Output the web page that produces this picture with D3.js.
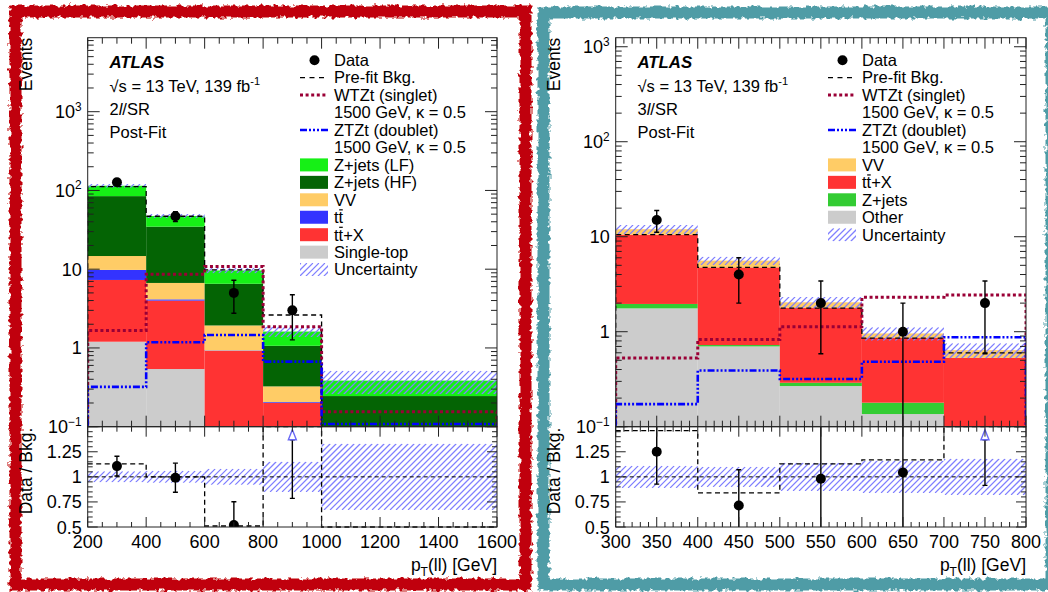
<!DOCTYPE html>
<html><head><meta charset="utf-8">
<script src="https://cdn.jsdelivr.net/npm/d3@7"></script>
<style>
html,body{margin:0;padding:0;background:#fff;}
svg{display:block;font-family:"Liberation Sans",Arial,Helvetica,sans-serif;}
</style></head><body>
<svg id="c" width="1048" height="592"></svg>
<script>
// ---------------- 2l/SR ----------------
const edges2l      = [200, 400, 600, 800, 1000, 1600];
const singleTop2l  = [1.2, 0.54, 0.10, 0.01, 0.005];
const ttX2l        = [6.1, 3.45, 0.82, 0.19, 0.02];
const ttbar2l      = [2.5, 0.15, 0.01, 0.005, 0];
const vv2l         = [4.9, 2.55, 1.0, 0.12, 0.02];
const zjHF2l       = [70, 28, 4.6, 0.74, 0.2];
const zjLF2l       = [30, 12.7, 3.1, 0.55, 0.14];
const data2l       = [127, 47, 5, 3, 0];
const prefit2l     = [112, 47, 9.8, 2.62, 0.05];
const prefitRatio2l = [1.13, 1.0, 0.51, 1.6, 0];   // ratio-panel dashed line (off-scale values sit on the frame)
const relUnc2l     = [0.055, 0.06, 0.08, 0.15, 0.33];
const wtzt2l       = [1.66, 8.6, 10.8, 1.86, 0.155];
const ztzt2l       = [0.32, 1.18, 1.46, 0.67, 0.108];
const xTickLabels2l = ["200", "400", "600", "800", "1000", "1200", "1400", "1600"];

// ---------------- 3l/SR ----------------
const edges3l      = [300, 400, 500, 600, 700, 800];
const other3l      = [1.76, 0.70, 0.268, 0.136, 0.04];
const zjets3l      = [0.2, 0.024, 0.022, 0.043, 0.005];
const ttX3l        = [8.54, 4.03, 1.5, 0.68, 0.485];
const vv3l         = [1.5, 0.85, 0.25, 0.1, 0.11];
const data3l       = [15, 4, 2, 1, 2];
const prefit3l     = [10.5, 4.76, 1.77, 0.855, 0.6];
const prefitRatio3l = [1.46, 0.84, 1.13, 1.17, 3.3];
const relUnc3l     = [0.11, 0.10, 0.14, 0.16, 0.18];
const wtzt3l       = [0.53, 0.83, 1.13, 2.3, 2.43];
const ztzt3l       = [0.173, 0.39, 0.318, 0.483, 0.873];
const xTickLabels3l = ["300", "350", "400", "450", "500", "550", "600", "650", "700", "750", "800"];

// shared axis labels
const yTickValues   = [0.1, 1, 10, 100, 1000];
const yTickLabels   = [["10", "\u22121"], ["1", ""], ["10", ""], ["10", "2"], ["10", "3"]];
const rTickValues   = [0.5, 0.75, 1, 1.25];
const rTickLabels   = ["0.5", "0.75", "1", "1.25"];
const sigLabels     = ["WTZt (singlet)", "1500 GeV, \u03ba = 0.5", "ZTZt (doublet)", "1500 GeV, \u03ba = 0.5"];

const COL = {
  zjLF: "#16f016", zjHF: "#046404", vv: "#ffcc66", ttbar: "#3333ff",
  ttX: "#ff3333", single: "#cccccc", zjets: "#33cc33", other: "#cccccc",
  wtzt: "#9a0036", ztzt: "#0000ff", hatch: "#8080ff"
};

const Y_TOP = 37.7, Y_SPLIT = 426.7, Y_BOT = 527;

const svg = d3.select("#c");
const defs = svg.append("defs");
let clipCount = 0;

// diagonal "////" hatching inside a rectangle, on a shared 6 px grid
function hatchRect(parent, x, y, w, h) {
  if (!(h > 0) || !(w > 0)) return;
  const cid = "hc" + (clipCount++);
  defs.append("clipPath").attr("id", cid).append("rect")
    .attr("x", x).attr("y", y).attr("width", w).attr("height", h);
  const gh = parent.append("g").attr("clip-path", `url(#${cid})`);
  const step = 6;
  const c0 = Math.floor((x + y) / step) * step, c1 = x + w + y + h + step;
  let d = "";
  for (let c = c0; c <= c1; c += step) d += `M${c - (y + h)},${y + h}L${c - y},${y}`;
  gh.append("path").attr("d", d).attr("fill", "none")
    .attr("stroke", COL.hatch).attr("stroke-width", 1.25);
}

// rough brush-like frame
const flt = defs.append("filter").attr("id", "rough")
  .attr("x", "-3%").attr("y", "-3%").attr("width", "106%").attr("height", "106%");
flt.append("feTurbulence").attr("type", "fractalNoise").attr("baseFrequency", 0.22)
  .attr("numOctaves", 2).attr("seed", 4).attr("result", "noise");
flt.append("feDisplacementMap").attr("in", "SourceGraphic").attr("in2", "noise")
  .attr("scale", 7).attr("xChannelSelector", "R").attr("yChannelSelector", "G");

svg.append("rect").attr("x", 15.5).attr("y", 11.5).attr("width", 510).attr("height", 573)
  .attr("fill", "none").attr("stroke", "#c00008").attr("stroke-width", 12).attr("filter", "url(#rough)");
svg.append("rect").attr("x", 543.5).attr("y", 12.5).attr("width", 508).attr("height", 572)
  .attr("fill", "none").attr("stroke", "#509ca6").attr("stroke-width", 12).attr("filter", "url(#rough)");

function supText(g, x, y, base, exp, size, anchor) {
  const t = g.append("text").attr("x", x).attr("y", y).attr("font-size", size)
    .attr("text-anchor", anchor || "end").attr("fill", "#000");
  t.append("tspan").text(base);
  if (exp) t.append("tspan").attr("dy", -size * 0.42).attr("font-size", size * 0.66).text(exp);
  return t;
}

function drawPanel(o) {
  const g = svg.append("g");
  const id = o.id;
  const x = d3.scaleLinear().domain([o.edges[0], o.edges[o.edges.length - 1]]).range([o.x0, o.x1]);
  const y = d3.scaleLog().domain([0.1, o.yMax]).range([Y_SPLIT, Y_TOP]);
  const yr = d3.scaleLinear().domain([0.5, 1.5]).range([Y_BOT, Y_SPLIT]);
  const nb = o.edges.length - 1;
  const bins = d3.range(nb);
  const cx = i => x((o.edges[i] + o.edges[i + 1]) / 2);

  defs.append("clipPath").attr("id", "cm" + id).append("rect")
    .attr("x", o.x0).attr("y", Y_TOP).attr("width", o.x1 - o.x0).attr("height", Y_SPLIT - Y_TOP);
  defs.append("clipPath").attr("id", "cr" + id).append("rect")
    .attr("x", o.x0).attr("y", Y_SPLIT).attr("width", o.x1 - o.x0).attr("height", Y_BOT - Y_SPLIT);

  const gm = g.append("g").attr("clip-path", `url(#cm${id})`);
  const gr = g.append("g").attr("clip-path", `url(#cr${id})`);
  const yy = v => v > 0 ? Math.min(y(v), Y_SPLIT + 20) : Y_SPLIT + 20;

  // stacked backgrounds
  const rows = bins.map(i => { const r = {}; o.stack.forEach(s => r[s.key] = s.values[i]); return r; });
  const layers = d3.stack().keys(o.stack.map(s => s.key))(rows);
  layers.forEach((layer, li) => {
    gm.selectAll(null).data(layer).join("rect")
      .attr("x", (d, i) => x(o.edges[i]))
      .attr("width", (d, i) => x(o.edges[i + 1]) - x(o.edges[i]))
      .attr("y", d => yy(d[1]))
      .attr("height", d => Math.max(0, yy(d[0]) - yy(d[1])))
      .attr("fill", o.stack[li].color);
  });
  const totals = bins.map(i => d3.sum(o.stack, s => s.values[i]));

  // uncertainty band on the total
  bins.forEach(i => {
    const yt = yy(totals[i] * (1 + o.unc[i])), yb = yy(totals[i] * (1 - o.unc[i]));
    hatchRect(gm, x(o.edges[i]), yt, x(o.edges[i + 1]) - x(o.edges[i]), yb - yt);
  });

  function stepPath(vals, f, floor) {
    let d = `M${x(o.edges[0])},${floor}`;
    vals.forEach((v, i) => { d += `L${x(o.edges[i])},${f(v)}L${x(o.edges[i + 1])},${f(v)}`; });
    return d + `L${x(o.edges[nb])},${floor}`;
  }
  // pre-fit background and signals
  gm.append("path").attr("d", stepPath(o.prefit, yy, Y_SPLIT + 20))
    .attr("fill", "none").attr("stroke", "#000").attr("stroke-width", 1.3).attr("stroke-dasharray", "5,3.5");
  gm.append("path").attr("d", stepPath(o.wtzt, yy, Y_SPLIT + 20))
    .attr("fill", "none").attr("stroke", COL.wtzt).attr("stroke-width", 3).attr("stroke-dasharray", "3,2.6");
  gm.append("path").attr("d", stepPath(o.ztzt, yy, Y_SPLIT + 20))
    .attr("fill", "none").attr("stroke", COL.ztzt).attr("stroke-width", 2.6).attr("stroke-dasharray", "7,2,2,2,2,2,2,2");

  // data with Poisson (sqrt N) errors
  function errBar(gg, xc, yHi, yLo, top, bot) {
    gg.append("line").attr("x1", xc).attr("x2", xc).attr("y1", yHi).attr("y2", yLo)
      .attr("stroke", "#000").attr("stroke-width", 1.4);
    [yHi, yLo].forEach(v => {
      if (v > top + 1 && v < bot - 1)
        gg.append("line").attr("x1", xc - 2.5).attr("x2", xc + 2.5).attr("y1", v).attr("y2", v)
          .attr("stroke", "#000").attr("stroke-width", 1.4);
    });
  }
  bins.forEach(i => {
    const n = o.data[i];
    if (n <= 0) return;
    const e = Math.sqrt(n);
    errBar(gm, cx(i), y(n + e), yy(n - e), Y_TOP, Y_SPLIT);
    gm.append("circle").attr("cx", cx(i)).attr("cy", y(n)).attr("r", 5).attr("fill", "#000");
  });

  // ratio panel
  bins.forEach(i => {
    const yt = yr(1 + o.unc[i]), yb = yr(1 - o.unc[i]);
    hatchRect(gr, x(o.edges[i]), yt, x(o.edges[i + 1]) - x(o.edges[i]), yb - yt);
  });
  const preRatio = o.preRatio.map(v => Math.max(0.5, Math.min(1.5, v)));
  let dR = "";
  preRatio.forEach((v, i) => { dR += `${i ? "L" : "M"}${x(o.edges[i])},${yr(v)}L${x(o.edges[i + 1])},${yr(v)}`; });
  g.append("path").attr("d", dR).attr("fill", "none").attr("stroke", "#000")
    .attr("stroke-width", 1.3).attr("stroke-dasharray", "5,3.5");
  g.append("line").attr("x1", o.x0).attr("x2", o.x1).attr("y1", yr(1)).attr("y2", yr(1))
    .attr("stroke", "#000").attr("stroke-width", 1).attr("stroke-dasharray", "4,3");
  bins.forEach(i => {
    const n = o.data[i];
    if (n <= 0) return;
    const r = n / totals[i], e = Math.sqrt(n) / totals[i];
    if (r > 1.5) {
      const ya = Y_SPLIT + 3, yb = Y_SPLIT + 13;
      g.append("path").attr("d", `M${cx(i)},${ya}L${cx(i) - 4},${yb}L${cx(i) + 4},${yb}Z`)
        .attr("fill", "#fff").attr("stroke", "#6a6af5").attr("stroke-width", 1.4);
      errBar(gr, cx(i), yb, yr(r - e), Y_SPLIT, Y_BOT);
    } else {
      errBar(gr, cx(i), yr(r + e), yr(r - e), Y_SPLIT, Y_BOT);
      gr.append("circle").attr("cx", cx(i)).attr("cy", yr(r)).attr("r", 5).attr("fill", "#000");
    }
  });

  // frames
  [[Y_TOP, Y_SPLIT], [Y_SPLIT, Y_BOT]].forEach(([a, b]) =>
    g.append("rect").attr("x", o.x0).attr("y", a).attr("width", o.x1 - o.x0).attr("height", b - a)
      .attr("fill", "none").attr("stroke", "#222").attr("stroke-width", 1));

  // ticks
  const tk = g.append("g").attr("stroke", "#222").attr("stroke-width", 1);
  const xt = d3.range(o.edges[0], o.edges[nb] + 0.01, o.xMinor);
  xt.forEach(v => {
    const maj = Math.abs(v / o.xMajor - Math.round(v / o.xMajor)) < 1e-6;
    const px = x(v);
    [[Y_TOP, 1, maj ? 11 : 6], [Y_SPLIT, -1, maj ? 11 : 6], [Y_SPLIT, 1, maj ? 10 : 5], [Y_BOT, -1, maj ? 10 : 5]]
      .forEach(([y0, dir, len]) => tk.append("line").attr("x1", px).attr("x2", px).attr("y1", y0).attr("y2", y0 + dir * len));
  });
  d3.range(-1, 4).forEach(e => d3.range(1, 10).forEach(k => {
    const v = k * Math.pow(10, e);
    if (v > o.yMax) return;
    const py = y(v), len = k === 1 ? 12 : 6;
    tk.append("line").attr("x1", o.x0).attr("x2", o.x0 + len).attr("y1", py).attr("y2", py);
    tk.append("line").attr("x1", o.x1).attr("x2", o.x1 - len).attr("y1", py).attr("y2", py);
  }));
  d3.range(0, 21).forEach(k => {
    const v = 0.5 + k * 0.05, py = yr(v), len = k % 5 === 0 ? 10 : 5;
    tk.append("line").attr("x1", o.x0).attr("x2", o.x0 + len).attr("y1", py).attr("y2", py);
    tk.append("line").attr("x1", o.x1).attr("x2", o.x1 - len).attr("y1", py).attr("y2", py);
  });

  // tick labels
  o.xLabels.forEach(s => g.append("text").attr("x", x(+s)).attr("y", 548).attr("font-size", 18)
    .attr("text-anchor", "middle").text(s));
  yTickValues.forEach((v, i) => supText(g, o.x0 - 6, y(v) + 6.5, yTickLabels[i][0], yTickLabels[i][1], 18));
  rTickValues.forEach((v, i) => g.append("text").attr("x", o.x0 - 6).attr("y", yr(v) + 6.5)
    .attr("font-size", 18).attr("text-anchor", "end").text(rTickLabels[i]));

  // axis titles
  g.append("text").attr("transform", `translate(${o.x0 - 55.5},${Y_TOP}) rotate(-90)`)
    .attr("font-size", 17.5).attr("text-anchor", "end").text("Events");
  g.append("text").attr("transform", `translate(${o.x0 - 55.5},${Y_SPLIT + 1}) rotate(-90)`)
    .attr("font-size", 17.5).attr("text-anchor", "end").text("Data / Bkg.");
  const xt2 = g.append("text").attr("x", o.x1).attr("y", 571).attr("font-size", 17.5).attr("text-anchor", "end");
  xt2.append("tspan").text("p");
  xt2.append("tspan").attr("font-size", 12).attr("dy", 5).text("T");
  xt2.append("tspan").attr("dy", -5).text("(ll) [GeV]");

  // labels block
  const lx = o.x0 + 21.8;
  g.append("text").attr("x", lx).attr("y", 68.3).attr("font-size", 16.8).attr("font-weight", "bold")
    .attr("font-style", "italic").text("ATLAS");
  const t2 = g.append("text").attr("x", lx).attr("y", 91.7).attr("font-size", 16.5);
  t2.append("tspan").text("\u221as = 13 TeV, 139 fb");
  t2.append("tspan").attr("dy", -6.5).attr("font-size", 11).text("-1");
  const t3 = g.append("text").attr("x", lx).attr("y", 114.5).attr("font-size", 16.5);
  t3.append("tspan").text(o.region);
  t3.append("tspan").attr("font-style", "italic").text("l");
  t3.append("tspan").text("/SR");
  g.append("text").attr("x", lx).attr("y", 137.5).attr("font-size", 16.5).text("Post-Fit");

  // legend
  const sx = o.legX, tx = sx + 34;
  o.legend.forEach((en, k) => {
    const base = 66 + 17.45 * k, mid = base - 5.8;
    if (en.kind === "data") g.append("circle").attr("cx", sx + 14.5).attr("cy", mid).attr("r", 5).attr("fill", "#000");
    if (en.kind === "dashed") g.append("line").attr("x1", sx).attr("x2", sx + 28).attr("y1", mid).attr("y2", mid)
      .attr("stroke", "#000").attr("stroke-width", 1.3).attr("stroke-dasharray", "5,4.5");
    if (en.kind === "dotted") g.append("line").attr("x1", sx).attr("x2", sx + 28).attr("y1", mid).attr("y2", mid)
      .attr("stroke", COL.wtzt).attr("stroke-width", 3).attr("stroke-dasharray", "3,2.6");
    if (en.kind === "dashdot") g.append("line").attr("x1", sx).attr("x2", sx + 28).attr("y1", mid).attr("y2", mid)
      .attr("stroke", COL.ztzt).attr("stroke-width", 2.6).attr("stroke-dasharray", "7,2,2,2,2,2,2,2");
    if (en.kind === "box") g.append("rect").attr("x", sx).attr("y", mid - 6.5).attr("width", 28).attr("height", 13).attr("fill", en.color);
    if (en.kind === "hatch") hatchRect(g, sx, mid - 6.5, 28, 13);
    const t = g.append("text").attr("x", tx).attr("y", base).attr("font-size", 16.5)
      .text(en.bar ? "tt" + en.label : en.label);
    if (en.bar) {
      // anti-top bar over the second "t"
      const ex = t.node().getExtentOfChar(1);
      g.append("line").attr("x1", ex.x + 0.6).attr("x2", ex.x + ex.width - 0.4)
        .attr("y1", base - 13.2).attr("y2", base - 13.2).attr("stroke", "#000").attr("stroke-width", 1.2);
    }
  });
}

drawPanel({
  id: "L", x0: 87.7, x1: 497, yMax: 8700, edges: edges2l, xMinor: 50, xMajor: 200,
  xLabels: xTickLabels2l, region: "2",
  stack: [
    { key: "Single-top", values: singleTop2l, color: COL.single },
    { key: "ttX", values: ttX2l, color: COL.ttX },
    { key: "tt", values: ttbar2l, color: COL.ttbar },
    { key: "VV", values: vv2l, color: COL.vv },
    { key: "Z+jets (HF)", values: zjHF2l, color: COL.zjHF },
    { key: "Z+jets (LF)", values: zjLF2l, color: COL.zjLF }
  ],
  data: data2l, prefit: prefit2l, preRatio: prefitRatio2l, unc: relUnc2l, wtzt: wtzt2l, ztzt: ztzt2l,
  legX: 300,
  legend: [
    { kind: "data", label: "Data" }, { kind: "dashed", label: "Pre-fit Bkg." },
    { kind: "dotted", label: sigLabels[0] }, { kind: "none", label: sigLabels[1] },
    { kind: "dashdot", label: sigLabels[2] }, { kind: "none", label: sigLabels[3] },
    { kind: "box", label: "Z+jets (LF)", color: COL.zjLF }, { kind: "box", label: "Z+jets (HF)", color: COL.zjHF },
    { kind: "box", label: "VV", color: COL.vv }, { kind: "box", label: "", bar: true, color: COL.ttbar },
    { kind: "box", label: "+X", bar: true, color: COL.ttX }, { kind: "box", label: "Single-top", color: COL.single },
    { kind: "hatch", label: "Uncertainty" }
  ]
});

drawPanel({
  id: "R", x0: 615.7, x1: 1026, yMax: 1245, edges: edges3l, xMinor: 10, xMajor: 50,
  xLabels: xTickLabels3l, region: "3",
  stack: [
    { key: "Other", values: other3l, color: COL.other },
    { key: "Z+jets", values: zjets3l, color: COL.zjets },
    { key: "ttX", values: ttX3l, color: COL.ttX },
    { key: "VV", values: vv3l, color: COL.vv }
  ],
  data: data3l, prefit: prefit3l, preRatio: prefitRatio3l, unc: relUnc3l, wtzt: wtzt3l, ztzt: ztzt3l,
  legX: 828,
  legend: [
    { kind: "data", label: "Data" }, { kind: "dashed", label: "Pre-fit Bkg." },
    { kind: "dotted", label: sigLabels[0] }, { kind: "none", label: sigLabels[1] },
    { kind: "dashdot", label: sigLabels[2] }, { kind: "none", label: sigLabels[3] },
    { kind: "box", label: "VV", color: COL.vv }, { kind: "box", label: "+X", bar: true, color: COL.ttX },
    { kind: "box", label: "Z+jets", color: COL.zjets }, { kind: "box", label: "Other", color: COL.other },
    { kind: "hatch", label: "Uncertainty" }
  ]
});
</script>
</body></html>
